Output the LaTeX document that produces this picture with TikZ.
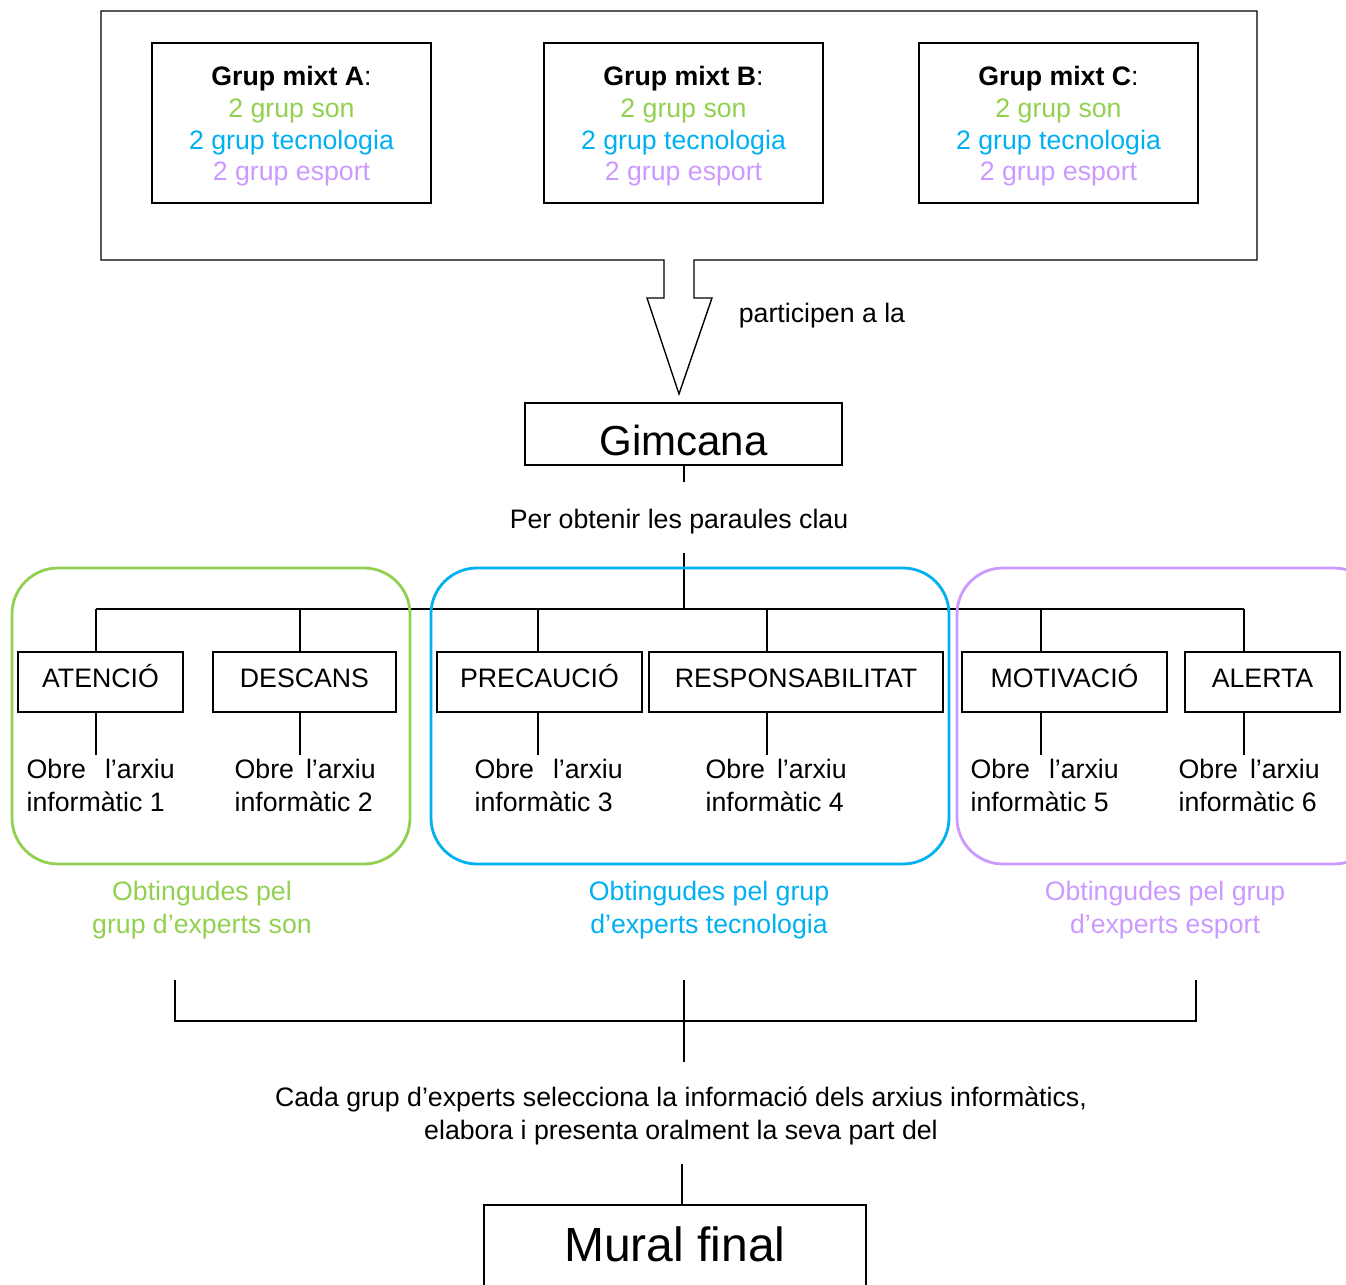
\documentclass[tikz,border=0pt]{standalone}
\usepackage{fontspec}
\setmainfont{Liberation Sans}
\usetikzlibrary{positioning}
\definecolor{son}{HTML}{92D050}
\definecolor{tec}{HTML}{00B0F0}
\definecolor{esp}{HTML}{CC99FF}

\begin{document}
\begin{tikzpicture}[x=0.5pt,y=-0.5pt,line width=0.7pt,
    box/.style={draw,inner sep=0pt,align=center},
    txt/.style={font=\fontsize{13.35}{16.5}\selectfont,inner sep=0pt,align=center},
    grp/.style={box,minimum width=139.5pt,minimum height=80pt,text height=60.5pt,text depth=2.8pt,
      font=\fontsize{13.35}{15.8}\selectfont},
    kw/.style={box,minimum height=30pt,text height=9.56pt,text depth=4pt,font=\fontsize{13.35}{16}\selectfont},
    obre/.style={txt,align=left,anchor=north west},
    zone/.style={line width=1.4pt,rounded corners=23pt}]
    \useasboundingbox (0,0) rectangle (1346,1285);
    \clip (0,0) rectangle (1346,1285);

    \node[grp] (GA) at (291.5,123) {\textbf{Grup mixt A}:\\\textcolor{son}{2 grup son}\\\textcolor{tec}{2 grup tecnologia}\\\textcolor{esp}{2 grup esport}};
    \node[grp] (GB) at (683.5,123) {\textbf{Grup mixt B}:\\\textcolor{son}{2 grup son}\\\textcolor{tec}{2 grup tecnologia}\\\textcolor{esp}{2 grup esport}};
    \node[grp] (GC) at (1058.5,123) {\textbf{Grup mixt C}:\\\textcolor{son}{2 grup son}\\\textcolor{tec}{2 grup tecnologia}\\\textcolor{esp}{2 grup esport}};
    \coordinate (TIP) at (679,394);
    \draw (664,260) -- (101,260) -- (101,11) -- (1257,11) -- (1257,260) -- (694,260)
      -- (694,298) -- (712,298) -- (TIP) -- (647,298) -- (664,298) -- cycle;
    \node[txt] (PA) at (822,316) {participen a la};

    \node[box,minimum width=158.5pt,minimum height=31pt,text height=21pt,text depth=0pt,
      font=\fontsize{21}{24}\selectfont] (GIM) at (683.5,434) {Gimcana};
    \node[txt] (PO) at (679,522) {Per obtenir les paraules clau};
    \coordinate (G1) at (684,482);
    \coordinate (HUB) at (684,553);
    \coordinate (BAR) at (684,609);
    \coordinate (BL) at (96,609);
    \coordinate (BR) at (1244,609);
    \draw (GIM.south -| G1) -- (G1);
    \draw (HUB) -- (BAR);
    \draw (BL) -- (BR);

    \draw[zone,son] (12,568) rectangle (410,864);
    \draw[zone,tec] (431,568) rectangle (949,864);
    \draw[zone,esp] (957,568) rectangle (1380,864);

    \node[kw,minimum width=82.5pt]  (K1) at (100.5,682) {ATENCIÓ};
    \node[kw,minimum width=91.5pt]  (K2) at (304.5,682) {DESCANS};
    \node[kw,minimum width=102.5pt] (K3) at (539.5,682) {PRECAUCIÓ};
    \node[kw,minimum width=147pt]   (K4) at (796,682)   {RESPONSABILITAT};
    \node[kw,minimum width=102.5pt] (K5) at (1064.5,682) {MOTIVACIÓ};
    \node[kw,minimum width=77.5pt]  (K6) at (1262.5,682) {ALERTA};

    \node[obre] (O1) at (26,758)   {Obre\hspace{9.5pt}l'arxiu\\informàtic 1};
    \node[obre] (O2) at (234,758)  {Obre\hspace{6pt}l'arxiu\\informàtic 2};
    \node[obre] (O3) at (474,758)  {Obre\hspace{9.5pt}l'arxiu\\informàtic 3};
    \node[obre] (O4) at (705,758)  {Obre\hspace{6pt}l'arxiu\\informàtic 4};
    \node[obre] (O5) at (970,758)  {Obre\hspace{9.5pt}l'arxiu\\informàtic 5};
    \node[obre] (O6) at (1178,758) {Obre\hspace{6pt}l'arxiu\\informàtic 6};

    \foreach \k/\x in {1/96,2/300,3/538,4/767,5/1041,6/1244}
      \draw (BL -| \x,0) -- (K\k.north -| \x,0)
            (K\k.south -| \x,0) -- (\x,755);

    \node[txt,text=son] (LS) at (202,910)  {Obtingudes pel\\grup d'experts son};
    \node[txt,text=tec] (LT) at (709,910)  {Obtingudes pel grup\\d'experts tecnologia};
    \node[txt,text=esp] (LE) at (1165,910) {Obtingudes pel grup\\d'experts esport};

    \coordinate (E1) at (175,980);
    \coordinate (E2) at (1196,980);
    \coordinate (E3) at (684,980);
    \coordinate (E4) at (684,1062);
    \draw (E1) -- (E1 |- 0,1021) -- (E2 |- 0,1021) -- (E2);
    \draw (E3) -- (E4);

    \node[txt] (CG) at (681,1116) {Cada grup d'experts selecciona la informació dels arxius informàtics,\\elabora i presenta oralment la seva part del};
    \node[box,minimum width=191pt,minimum height=45pt,text height=17.2pt,text depth=6pt,
      font=\fontsize{24}{27}\selectfont] (MF) at (675,1250) {Mural final};
    \coordinate (C1) at (682,1164);
    \draw (C1) -- (C1 |- MF.north);
\end{tikzpicture}
\end{document}
